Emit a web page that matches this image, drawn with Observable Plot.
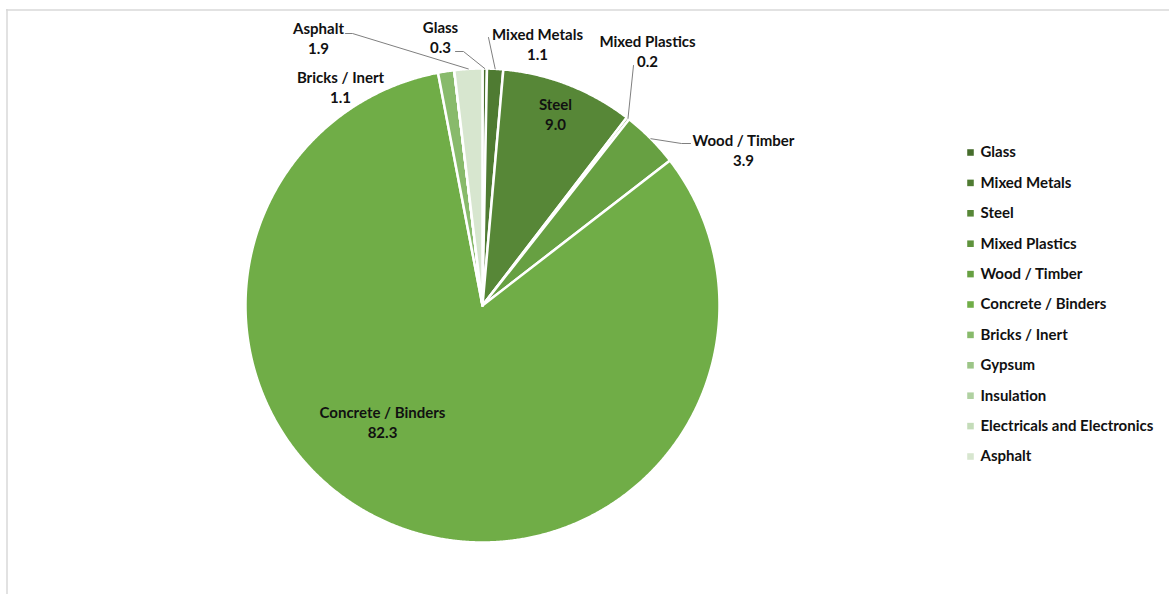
<!DOCTYPE html>
<html><head><meta charset="utf-8">
<script src="https://cdn.jsdelivr.net/npm/d3@7"></script>
<script src="https://cdn.jsdelivr.net/npm/@observablehq/plot@0.6"></script>
<style>html,body{margin:0;padding:0;background:#fff;overflow:hidden}</style>
</head><body><div id="chart"></div>
<script>
// ---- data ----
const categories = ["Glass","Mixed Metals","Steel","Mixed Plastics","Wood / Timber","Concrete / Binders","Bricks / Inert","Gypsum","Insulation","Electricals and Electronics","Asphalt"];
const values = [0.3, 1.1, 9.0, 0.2, 3.9, 82.3, 1.1, 0, 0, 0, 1.9];
const valueLabels = ["0.3","1.1","9.0","0.2","3.9","82.3","1.1","","","","1.9"];
const colors = ["#466d2c","#4f7b32","#578737","#5f933c","#67a042","#70ad47","#88ba6b","#9cc587","#b0d1a1","#c4dcb9","#d7e6cf"];

// ---- layout ----
const W = 1169, H = 594;
const cx = 482, cy = 305, R = 237;
// label block: center x, first line y (line spacing 20)
const labelLayout = {
  "Glass": [440, 26],
  "Mixed Metals": [537, 33],
  "Steel": [555, 103],
  "Mixed Plastics": [647, 40],
  "Wood / Timber": [743, 139],
  "Concrete / Binders": [382, 411],
  "Bricks / Inert": [340, 76],
  "Asphalt": [318, 27]
};
// leader line anchors near the labels (label end, elbow)
const leaderLayout = {
  "Asphalt": [[345, 33], [352, 33]],
  "Glass": [[455, 51], [463, 51]],
  "Mixed Metals": [[488, 37]],
  "Mixed Plastics": [[633, 65]],
  "Wood / Timber": [[690, 143], [681, 143]]
};
const legendX = 970, legendTextX = 980, legendY0 = 152, legendStep = 30.4;

// ---- geometry from data ----
const arcs = d3.pie().sort(null).value(d => d)(values);
const pt = (a, r) => ({x: cx + r * Math.sin(a), y: cy - r * Math.cos(a)});
const slicePts = [];
arcs.forEach((a, i) => {
  const name = categories[i];
  slicePts.push({name, ...pt(0, 0)});
  const n = Math.max(1, Math.ceil((a.endAngle - a.startAngle) / 0.005));
  for (let k = 0; k <= n; k++) {
    const ang = a.startAngle + (a.endAngle - a.startAngle) * k / n;
    slicePts.push({name, ...pt(ang, R)});
  }
});

const labels = categories.map((name, i) => ({name, value: valueLabels[i], pos: labelLayout[name]}))
  .filter(d => d.pos)
  .map(d => ({text: d.name + "\n" + d.value, x: d.pos[0], y: d.pos[1] + 10}));

const leaderPts = [];
Object.entries(leaderLayout).forEach(([name, anchors]) => {
  const i = categories.indexOf(name);
  const a = arcs[i];
  anchors.forEach(p => leaderPts.push({name, x: p[0], y: p[1]}));
  leaderPts.push({name, ...pt((a.startAngle + a.endAngle) / 2, R)});
});

const legend = categories.map((name, i) => ({name, y: legendY0 + i * legendStep}));

const chart = Plot.plot({
  width: W, height: H, margin: 0,
  style: {fontFamily: "Lato, 'Open Sans', sans-serif", background: "#fff"},
  x: {domain: [0, W], range: [0, W], axis: null},
  y: {domain: [0, H], range: [0, H], axis: null},
  color: {type: "ordinal", domain: categories, range: colors},
  marks: [
    Plot.ruleY([9.5], {x1: 6, x2: W, stroke: "#d9d9d9", strokeWidth: 1.5}),
    Plot.ruleX([6.5], {y1: 9, y2: H, stroke: "#d9d9d9", strokeWidth: 1.5}),
    Plot.line(slicePts, {x: "x", y: "y", z: "name", fill: "name", stroke: "white", strokeWidth: 2.5, strokeLinejoin: "round", curve: "linear-closed"}),
    Plot.line(leaderPts, {x: "x", y: "y", z: "name", stroke: "#7f7f7f", strokeWidth: 1}),
    Plot.text(labels, {x: "x", y: "y", text: "text", fontSize: 15, fontWeight: "bold", fill: "#111", lineHeight: 1.34, lineAnchor: "middle"}),
    Plot.dot(legend, {x: legendX, y: "y", symbol: "square", fill: "name", r: 3.7}),
    Plot.text(legend, {x: legendTextX, y: "y", text: "name", textAnchor: "start", fontSize: 15, fontWeight: "bold", fill: "#111"})
  ]
});
document.getElementById("chart").appendChild(chart);
</script>
</body></html>
